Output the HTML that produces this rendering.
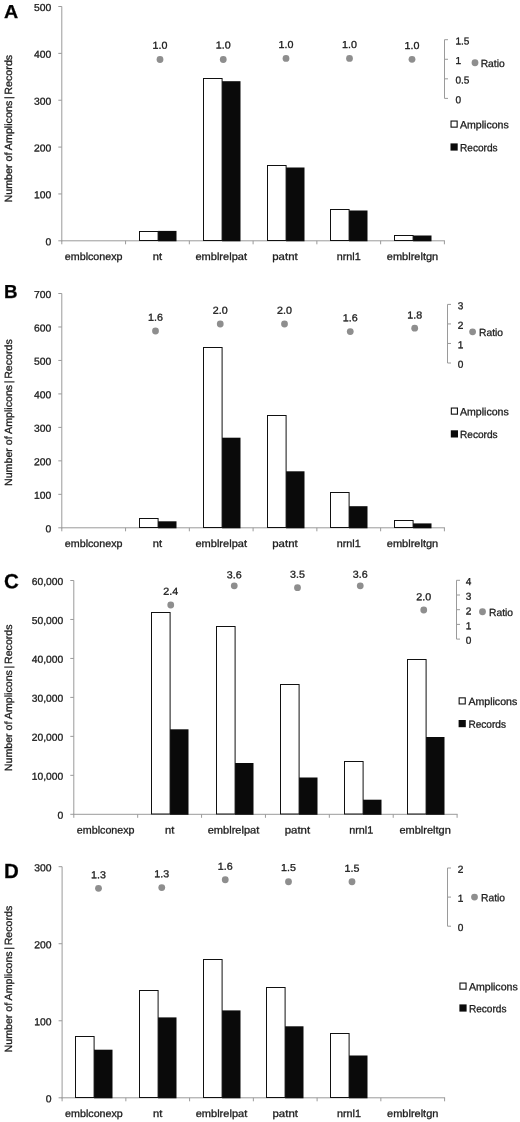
<!DOCTYPE html>
<html><head><meta charset="utf-8"><title>Figure</title>
<style>
html,body{margin:0;padding:0;background:#fff;}
text{stroke:#1c1c1c;stroke-width:0.3px;text-rendering:geometricPrecision;}
svg{display:block;font-family:"Liberation Sans",sans-serif;will-change:transform;}
</style></head><body>
<svg width="520" height="1122" viewBox="0 0 520 1122">
<rect width="520" height="1122" fill="#fff"/>
<text x="4.1" y="18.1" transform="rotate(0.05 4.1 18.1)" font-size="18.8" font-weight="bold" text-anchor="start" fill="#000" textLength="14.2" lengthAdjust="spacingAndGlyphs">A</text>
<text transform="translate(11.5,202.5) rotate(-90)" font-size="10.4" fill="#1c1c1c" textLength="147.7" lengthAdjust="spacingAndGlyphs">Number of Amplicons<tspan dx="1.6">|</tspan><tspan dx="1.6">Records</tspan></text>
<line x1="61.8" y1="6.5" x2="61.8" y2="241.3" stroke="#9a9a9a" stroke-width="1"/>
<line x1="61.3" y1="240.8" x2="444.9" y2="240.8" stroke="#9a9a9a" stroke-width="1"/>
<line x1="58.3" y1="240.8" x2="61.8" y2="240.8" stroke="#9a9a9a" stroke-width="1"/>
<text x="51.3" y="245.25" transform="rotate(0.05 51.3 245.25)" font-size="10.1" font-weight="normal" text-anchor="end" fill="#1c1c1c" textLength="5.8" lengthAdjust="spacingAndGlyphs">0</text>
<line x1="58.3" y1="193.94" x2="61.8" y2="193.94" stroke="#9a9a9a" stroke-width="1"/>
<text x="51.3" y="198.39" transform="rotate(0.05 51.3 198.39)" font-size="10.1" font-weight="normal" text-anchor="end" fill="#1c1c1c" textLength="17.3" lengthAdjust="spacingAndGlyphs">100</text>
<line x1="58.3" y1="147.08" x2="61.8" y2="147.08" stroke="#9a9a9a" stroke-width="1"/>
<text x="51.3" y="151.53" transform="rotate(0.05 51.3 151.53)" font-size="10.1" font-weight="normal" text-anchor="end" fill="#1c1c1c" textLength="17.3" lengthAdjust="spacingAndGlyphs">200</text>
<line x1="58.3" y1="100.22" x2="61.8" y2="100.22" stroke="#9a9a9a" stroke-width="1"/>
<text x="51.3" y="104.67" transform="rotate(0.05 51.3 104.67)" font-size="10.1" font-weight="normal" text-anchor="end" fill="#1c1c1c" textLength="17.3" lengthAdjust="spacingAndGlyphs">300</text>
<line x1="58.3" y1="53.360000000000014" x2="61.8" y2="53.360000000000014" stroke="#9a9a9a" stroke-width="1"/>
<text x="51.3" y="57.81" transform="rotate(0.05 51.3 57.81)" font-size="10.1" font-weight="normal" text-anchor="end" fill="#1c1c1c" textLength="17.3" lengthAdjust="spacingAndGlyphs">400</text>
<line x1="58.3" y1="6.5" x2="61.8" y2="6.5" stroke="#9a9a9a" stroke-width="1"/>
<text x="51.3" y="10.95" transform="rotate(0.05 51.3 10.95)" font-size="10.1" font-weight="normal" text-anchor="end" fill="#1c1c1c" textLength="17.3" lengthAdjust="spacingAndGlyphs">500</text>
<line x1="61.8" y1="240.8" x2="61.8" y2="244.3" stroke="#9a9a9a" stroke-width="1"/>
<line x1="125.56666666666666" y1="240.8" x2="125.56666666666666" y2="244.3" stroke="#9a9a9a" stroke-width="1"/>
<line x1="189.33333333333331" y1="240.8" x2="189.33333333333331" y2="244.3" stroke="#9a9a9a" stroke-width="1"/>
<line x1="253.09999999999997" y1="240.8" x2="253.09999999999997" y2="244.3" stroke="#9a9a9a" stroke-width="1"/>
<line x1="316.8666666666666" y1="240.8" x2="316.8666666666666" y2="244.3" stroke="#9a9a9a" stroke-width="1"/>
<line x1="380.6333333333333" y1="240.8" x2="380.6333333333333" y2="244.3" stroke="#9a9a9a" stroke-width="1"/>
<line x1="444.4" y1="240.8" x2="444.4" y2="244.3" stroke="#9a9a9a" stroke-width="1"/>
<text x="93.68" y="259.95" transform="rotate(0.05 93.68 259.95)" font-size="10.4" font-weight="normal" text-anchor="middle" fill="#1c1c1c" textLength="57.7" lengthAdjust="spacingAndGlyphs">emblconexp</text>
<text x="157.45" y="259.95" transform="rotate(0.05 157.45 259.95)" font-size="10.4" font-weight="normal" text-anchor="middle" fill="#1c1c1c" textLength="9.3" lengthAdjust="spacingAndGlyphs">nt</text>
<text x="221.22" y="259.95" transform="rotate(0.05 221.22 259.95)" font-size="10.4" font-weight="normal" text-anchor="middle" fill="#1c1c1c" textLength="51.6" lengthAdjust="spacingAndGlyphs">emblrelpat</text>
<text x="284.98" y="259.95" transform="rotate(0.05 284.98 259.95)" font-size="10.4" font-weight="normal" text-anchor="middle" fill="#1c1c1c" textLength="25.4" lengthAdjust="spacingAndGlyphs">patnt</text>
<text x="348.75" y="259.95" transform="rotate(0.05 348.75 259.95)" font-size="10.4" font-weight="normal" text-anchor="middle" fill="#1c1c1c" textLength="24" lengthAdjust="spacingAndGlyphs">nrnl1</text>
<text x="412.52" y="259.95" transform="rotate(0.05 412.52 259.95)" font-size="10.4" font-weight="normal" text-anchor="middle" fill="#1c1c1c" textLength="51.4" lengthAdjust="spacingAndGlyphs">emblreltgn</text>
<rect x="139.5" y="231.5" width="18.6" height="9.00" fill="#fff" stroke="#111" stroke-width="1"/>
<rect x="158.1" y="230.90" width="18.4" height="10.40" fill="#0a0a0a"/>
<rect x="203.5" y="78.5" width="18.6" height="162.00" fill="#fff" stroke="#111" stroke-width="1"/>
<rect x="222.1" y="81.20" width="18.4" height="160.10" fill="#0a0a0a"/>
<rect x="267.5" y="165.5" width="18.6" height="75.00" fill="#fff" stroke="#111" stroke-width="1"/>
<rect x="286.1" y="167.50" width="18.4" height="73.80" fill="#0a0a0a"/>
<rect x="330.5" y="209.5" width="18.6" height="31.00" fill="#fff" stroke="#111" stroke-width="1"/>
<rect x="349.1" y="210.50" width="18.4" height="30.80" fill="#0a0a0a"/>
<rect x="394.5" y="235.5" width="18.6" height="5.00" fill="#fff" stroke="#111" stroke-width="1"/>
<rect x="413.1" y="235.50" width="18.4" height="5.80" fill="#0a0a0a"/>
<line x1="444.5" y1="39.7" x2="444.5" y2="98.4" stroke="#9a9a9a" stroke-width="1"/>
<line x1="444.5" y1="98.4" x2="448.0" y2="98.4" stroke="#9a9a9a" stroke-width="1"/>
<text x="455.4" y="103.15" transform="rotate(0.05 455.4 103.15)" font-size="10.1" font-weight="normal" text-anchor="start" fill="#1c1c1c">0</text>
<line x1="444.5" y1="78.83333333333334" x2="448.0" y2="78.83333333333334" stroke="#9a9a9a" stroke-width="1"/>
<text x="455.4" y="83.58" transform="rotate(0.05 455.4 83.58)" font-size="10.1" font-weight="normal" text-anchor="start" fill="#1c1c1c">0.5</text>
<line x1="444.5" y1="59.26666666666667" x2="448.0" y2="59.26666666666667" stroke="#9a9a9a" stroke-width="1"/>
<text x="455.4" y="64.02" transform="rotate(0.05 455.4 64.02)" font-size="10.1" font-weight="normal" text-anchor="start" fill="#1c1c1c">1</text>
<line x1="444.5" y1="39.699999999999996" x2="448.0" y2="39.699999999999996" stroke="#9a9a9a" stroke-width="1"/>
<text x="455.4" y="44.45" transform="rotate(0.05 455.4 44.45)" font-size="10.1" font-weight="normal" text-anchor="start" fill="#1c1c1c">1.5</text>
<circle cx="160" cy="59.5" r="3.4" fill="#8e8e8e"/>
<text x="160" y="48.75" transform="rotate(0.05 160 48.75)" font-size="10.1" font-weight="normal" text-anchor="middle" fill="#1c1c1c" textLength="14.9" lengthAdjust="spacingAndGlyphs">1.0</text>
<circle cx="223.25" cy="59.5" r="3.4" fill="#8e8e8e"/>
<text x="223.25" y="48.45" transform="rotate(0.05 223.25 48.45)" font-size="10.1" font-weight="normal" text-anchor="middle" fill="#1c1c1c" textLength="14.9" lengthAdjust="spacingAndGlyphs">1.0</text>
<circle cx="286" cy="58.4" r="3.4" fill="#8e8e8e"/>
<text x="286" y="47.95" transform="rotate(0.05 286 47.95)" font-size="10.1" font-weight="normal" text-anchor="middle" fill="#1c1c1c" textLength="14.9" lengthAdjust="spacingAndGlyphs">1.0</text>
<circle cx="349.5" cy="58.4" r="3.4" fill="#8e8e8e"/>
<text x="349.5" y="47.95" transform="rotate(0.05 349.5 47.95)" font-size="10.1" font-weight="normal" text-anchor="middle" fill="#1c1c1c" textLength="14.9" lengthAdjust="spacingAndGlyphs">1.0</text>
<circle cx="412" cy="59.3" r="3.4" fill="#8e8e8e"/>
<text x="412" y="49.05" transform="rotate(0.05 412 49.05)" font-size="10.1" font-weight="normal" text-anchor="middle" fill="#1c1c1c" textLength="14.9" lengthAdjust="spacingAndGlyphs">1.0</text>
<circle cx="475" cy="62.75" r="3.4" fill="#8e8e8e"/>
<text x="480.7" y="66.9" transform="rotate(0.05 480.7 66.9)" font-size="10.4" font-weight="normal" text-anchor="start" fill="#1c1c1c" textLength="24" lengthAdjust="spacingAndGlyphs">Ratio</text>
<rect x="451.05" y="121.05" width="6.1" height="6.1" fill="#fff" stroke="#111" stroke-width="1.1"/>
<text x="460" y="128.15" transform="rotate(0.05 460 128.15)" font-size="10.4" font-weight="normal" text-anchor="start" fill="#1c1c1c" textLength="48.8" lengthAdjust="spacingAndGlyphs">Amplicons</text>
<rect x="450.5" y="143.4" width="7.2" height="7.2" fill="#0a0a0a"/>
<text x="460" y="151.15" transform="rotate(0.05 460 151.15)" font-size="10.4" font-weight="normal" text-anchor="start" fill="#1c1c1c" textLength="37.6" lengthAdjust="spacingAndGlyphs">Records</text>
<text x="4.1" y="298.1" transform="rotate(0.05 4.1 298.1)" font-size="18.8" font-weight="bold" text-anchor="start" fill="#000">B</text>
<text transform="translate(11.5,486.0) rotate(-90)" font-size="10.4" fill="#1c1c1c" textLength="146.8" lengthAdjust="spacingAndGlyphs">Number of Amplicons<tspan dx="1.6">|</tspan><tspan dx="1.6">Records</tspan></text>
<line x1="61.8" y1="293.5" x2="61.8" y2="528.3" stroke="#9a9a9a" stroke-width="1"/>
<line x1="61.3" y1="527.8" x2="444.9" y2="527.8" stroke="#9a9a9a" stroke-width="1"/>
<line x1="58.3" y1="527.8" x2="61.8" y2="527.8" stroke="#9a9a9a" stroke-width="1"/>
<text x="51.3" y="532.25" transform="rotate(0.05 51.3 532.25)" font-size="10.1" font-weight="normal" text-anchor="end" fill="#1c1c1c" textLength="5.8" lengthAdjust="spacingAndGlyphs">0</text>
<line x1="58.3" y1="494.32857142857137" x2="61.8" y2="494.32857142857137" stroke="#9a9a9a" stroke-width="1"/>
<text x="51.3" y="498.78" transform="rotate(0.05 51.3 498.78)" font-size="10.1" font-weight="normal" text-anchor="end" fill="#1c1c1c" textLength="17.3" lengthAdjust="spacingAndGlyphs">100</text>
<line x1="58.3" y1="460.85714285714283" x2="61.8" y2="460.85714285714283" stroke="#9a9a9a" stroke-width="1"/>
<text x="51.3" y="465.31" transform="rotate(0.05 51.3 465.31)" font-size="10.1" font-weight="normal" text-anchor="end" fill="#1c1c1c" textLength="17.3" lengthAdjust="spacingAndGlyphs">200</text>
<line x1="58.3" y1="427.38571428571424" x2="61.8" y2="427.38571428571424" stroke="#9a9a9a" stroke-width="1"/>
<text x="51.3" y="431.84" transform="rotate(0.05 51.3 431.84)" font-size="10.1" font-weight="normal" text-anchor="end" fill="#1c1c1c" textLength="17.3" lengthAdjust="spacingAndGlyphs">300</text>
<line x1="58.3" y1="393.9142857142857" x2="61.8" y2="393.9142857142857" stroke="#9a9a9a" stroke-width="1"/>
<text x="51.3" y="398.36" transform="rotate(0.05 51.3 398.36)" font-size="10.1" font-weight="normal" text-anchor="end" fill="#1c1c1c" textLength="17.3" lengthAdjust="spacingAndGlyphs">400</text>
<line x1="58.3" y1="360.4428571428572" x2="61.8" y2="360.4428571428572" stroke="#9a9a9a" stroke-width="1"/>
<text x="51.3" y="364.89" transform="rotate(0.05 51.3 364.89)" font-size="10.1" font-weight="normal" text-anchor="end" fill="#1c1c1c" textLength="17.3" lengthAdjust="spacingAndGlyphs">500</text>
<line x1="58.3" y1="326.97142857142853" x2="61.8" y2="326.97142857142853" stroke="#9a9a9a" stroke-width="1"/>
<text x="51.3" y="331.42" transform="rotate(0.05 51.3 331.42)" font-size="10.1" font-weight="normal" text-anchor="end" fill="#1c1c1c" textLength="17.3" lengthAdjust="spacingAndGlyphs">600</text>
<line x1="58.3" y1="293.5" x2="61.8" y2="293.5" stroke="#9a9a9a" stroke-width="1"/>
<text x="51.3" y="297.95" transform="rotate(0.05 51.3 297.95)" font-size="10.1" font-weight="normal" text-anchor="end" fill="#1c1c1c" textLength="17.3" lengthAdjust="spacingAndGlyphs">700</text>
<line x1="61.8" y1="527.8" x2="61.8" y2="531.3" stroke="#9a9a9a" stroke-width="1"/>
<line x1="125.56666666666666" y1="527.8" x2="125.56666666666666" y2="531.3" stroke="#9a9a9a" stroke-width="1"/>
<line x1="189.33333333333331" y1="527.8" x2="189.33333333333331" y2="531.3" stroke="#9a9a9a" stroke-width="1"/>
<line x1="253.09999999999997" y1="527.8" x2="253.09999999999997" y2="531.3" stroke="#9a9a9a" stroke-width="1"/>
<line x1="316.8666666666666" y1="527.8" x2="316.8666666666666" y2="531.3" stroke="#9a9a9a" stroke-width="1"/>
<line x1="380.6333333333333" y1="527.8" x2="380.6333333333333" y2="531.3" stroke="#9a9a9a" stroke-width="1"/>
<line x1="444.4" y1="527.8" x2="444.4" y2="531.3" stroke="#9a9a9a" stroke-width="1"/>
<text x="93.68" y="546.95" transform="rotate(0.05 93.68 546.95)" font-size="10.4" font-weight="normal" text-anchor="middle" fill="#1c1c1c" textLength="57.7" lengthAdjust="spacingAndGlyphs">emblconexp</text>
<text x="157.45" y="546.95" transform="rotate(0.05 157.45 546.95)" font-size="10.4" font-weight="normal" text-anchor="middle" fill="#1c1c1c" textLength="9.3" lengthAdjust="spacingAndGlyphs">nt</text>
<text x="221.22" y="546.95" transform="rotate(0.05 221.22 546.95)" font-size="10.4" font-weight="normal" text-anchor="middle" fill="#1c1c1c" textLength="51.6" lengthAdjust="spacingAndGlyphs">emblrelpat</text>
<text x="284.98" y="546.95" transform="rotate(0.05 284.98 546.95)" font-size="10.4" font-weight="normal" text-anchor="middle" fill="#1c1c1c" textLength="25.4" lengthAdjust="spacingAndGlyphs">patnt</text>
<text x="348.75" y="546.95" transform="rotate(0.05 348.75 546.95)" font-size="10.4" font-weight="normal" text-anchor="middle" fill="#1c1c1c" textLength="24" lengthAdjust="spacingAndGlyphs">nrnl1</text>
<text x="412.52" y="546.95" transform="rotate(0.05 412.52 546.95)" font-size="10.4" font-weight="normal" text-anchor="middle" fill="#1c1c1c" textLength="51.4" lengthAdjust="spacingAndGlyphs">emblreltgn</text>
<rect x="139.5" y="518.5" width="18.6" height="9.00" fill="#fff" stroke="#111" stroke-width="1"/>
<rect x="158.1" y="521.30" width="18.4" height="7.00" fill="#0a0a0a"/>
<rect x="203.5" y="347.5" width="18.6" height="180.00" fill="#fff" stroke="#111" stroke-width="1"/>
<rect x="222.1" y="437.70" width="18.4" height="90.60" fill="#0a0a0a"/>
<rect x="267.5" y="415.5" width="18.6" height="112.00" fill="#fff" stroke="#111" stroke-width="1"/>
<rect x="286.1" y="471.30" width="18.4" height="57.00" fill="#0a0a0a"/>
<rect x="330.5" y="492.5" width="18.6" height="35.00" fill="#fff" stroke="#111" stroke-width="1"/>
<rect x="349.1" y="506.20" width="18.4" height="22.10" fill="#0a0a0a"/>
<rect x="394.5" y="520.5" width="18.6" height="7.00" fill="#fff" stroke="#111" stroke-width="1"/>
<rect x="413.1" y="523.40" width="18.4" height="4.90" fill="#0a0a0a"/>
<line x1="447.5" y1="304.4" x2="447.5" y2="363" stroke="#9a9a9a" stroke-width="1"/>
<line x1="447.5" y1="363.0" x2="451.0" y2="363.0" stroke="#9a9a9a" stroke-width="1"/>
<text x="457.8" y="367.75" transform="rotate(0.05 457.8 367.75)" font-size="10.1" font-weight="normal" text-anchor="start" fill="#1c1c1c">0</text>
<line x1="447.5" y1="343.46666666666664" x2="451.0" y2="343.46666666666664" stroke="#9a9a9a" stroke-width="1"/>
<text x="457.8" y="348.22" transform="rotate(0.05 457.8 348.22)" font-size="10.1" font-weight="normal" text-anchor="start" fill="#1c1c1c">1</text>
<line x1="447.5" y1="323.93333333333334" x2="451.0" y2="323.93333333333334" stroke="#9a9a9a" stroke-width="1"/>
<text x="457.8" y="328.68" transform="rotate(0.05 457.8 328.68)" font-size="10.1" font-weight="normal" text-anchor="start" fill="#1c1c1c">2</text>
<line x1="447.5" y1="304.4" x2="451.0" y2="304.4" stroke="#9a9a9a" stroke-width="1"/>
<text x="457.8" y="309.15" transform="rotate(0.05 457.8 309.15)" font-size="10.1" font-weight="normal" text-anchor="start" fill="#1c1c1c">3</text>
<circle cx="155.5" cy="331" r="3.4" fill="#8e8e8e"/>
<text x="155.5" y="320.65" transform="rotate(0.05 155.5 320.65)" font-size="10.1" font-weight="normal" text-anchor="middle" fill="#1c1c1c" textLength="14.9" lengthAdjust="spacingAndGlyphs">1.6</text>
<circle cx="220.25" cy="324" r="3.4" fill="#8e8e8e"/>
<text x="220.25" y="313.75" transform="rotate(0.05 220.25 313.75)" font-size="10.1" font-weight="normal" text-anchor="middle" fill="#1c1c1c" textLength="14.9" lengthAdjust="spacingAndGlyphs">2.0</text>
<circle cx="284.5" cy="324" r="3.4" fill="#8e8e8e"/>
<text x="284.5" y="313.85" transform="rotate(0.05 284.5 313.85)" font-size="10.1" font-weight="normal" text-anchor="middle" fill="#1c1c1c" textLength="14.9" lengthAdjust="spacingAndGlyphs">2.0</text>
<circle cx="350.25" cy="331.6" r="3.4" fill="#8e8e8e"/>
<text x="350.25" y="321.35" transform="rotate(0.05 350.25 321.35)" font-size="10.1" font-weight="normal" text-anchor="middle" fill="#1c1c1c" textLength="14.9" lengthAdjust="spacingAndGlyphs">1.6</text>
<circle cx="414.7" cy="328.2" r="3.4" fill="#8e8e8e"/>
<text x="414.7" y="318.55" transform="rotate(0.05 414.7 318.55)" font-size="10.1" font-weight="normal" text-anchor="middle" fill="#1c1c1c" textLength="14.9" lengthAdjust="spacingAndGlyphs">1.8</text>
<circle cx="472.6" cy="331.8" r="3.4" fill="#8e8e8e"/>
<text x="479" y="335.95" transform="rotate(0.05 479 335.95)" font-size="10.4" font-weight="normal" text-anchor="start" fill="#1c1c1c" textLength="24" lengthAdjust="spacingAndGlyphs">Ratio</text>
<rect x="451.35" y="408.05" width="6.1" height="6.1" fill="#fff" stroke="#111" stroke-width="1.1"/>
<text x="460" y="415.15" transform="rotate(0.05 460 415.15)" font-size="10.4" font-weight="normal" text-anchor="start" fill="#1c1c1c" textLength="48.8" lengthAdjust="spacingAndGlyphs">Amplicons</text>
<rect x="450.8" y="430.29999999999995" width="7.2" height="7.2" fill="#0a0a0a"/>
<text x="460" y="438.05" transform="rotate(0.05 460 438.05)" font-size="10.4" font-weight="normal" text-anchor="start" fill="#1c1c1c" textLength="37.6" lengthAdjust="spacingAndGlyphs">Records</text>
<text x="4.1" y="588.2" transform="rotate(0.05 4.1 588.2)" font-size="20.5" font-weight="bold" text-anchor="start" fill="#000">C</text>
<text transform="translate(11.5,771.2) rotate(-90)" font-size="10.4" fill="#1c1c1c" textLength="146.8" lengthAdjust="spacingAndGlyphs">Number of Amplicons<tspan dx="1.6">|</tspan><tspan dx="1.6">Records</tspan></text>
<line x1="73.8" y1="580.5" x2="73.8" y2="814.8" stroke="#9a9a9a" stroke-width="1"/>
<line x1="73.3" y1="814.3" x2="457.6" y2="814.3" stroke="#9a9a9a" stroke-width="1"/>
<line x1="70.3" y1="814.3" x2="73.8" y2="814.3" stroke="#9a9a9a" stroke-width="1"/>
<text x="63.3" y="818.75" transform="rotate(0.05 63.3 818.75)" font-size="10.1" font-weight="normal" text-anchor="end" fill="#1c1c1c" textLength="5.8" lengthAdjust="spacingAndGlyphs">0</text>
<line x1="70.3" y1="775.3333333333333" x2="73.8" y2="775.3333333333333" stroke="#9a9a9a" stroke-width="1"/>
<text x="63.3" y="779.78" transform="rotate(0.05 63.3 779.78)" font-size="10.1" font-weight="normal" text-anchor="end" fill="#1c1c1c" textLength="31.5" lengthAdjust="spacingAndGlyphs">10,000</text>
<line x1="70.3" y1="736.3666666666667" x2="73.8" y2="736.3666666666667" stroke="#9a9a9a" stroke-width="1"/>
<text x="63.3" y="740.82" transform="rotate(0.05 63.3 740.82)" font-size="10.1" font-weight="normal" text-anchor="end" fill="#1c1c1c" textLength="31.5" lengthAdjust="spacingAndGlyphs">20,000</text>
<line x1="70.3" y1="697.4" x2="73.8" y2="697.4" stroke="#9a9a9a" stroke-width="1"/>
<text x="63.3" y="701.85" transform="rotate(0.05 63.3 701.85)" font-size="10.1" font-weight="normal" text-anchor="end" fill="#1c1c1c" textLength="31.5" lengthAdjust="spacingAndGlyphs">30,000</text>
<line x1="70.3" y1="658.4333333333333" x2="73.8" y2="658.4333333333333" stroke="#9a9a9a" stroke-width="1"/>
<text x="63.3" y="662.88" transform="rotate(0.05 63.3 662.88)" font-size="10.1" font-weight="normal" text-anchor="end" fill="#1c1c1c" textLength="31.5" lengthAdjust="spacingAndGlyphs">40,000</text>
<line x1="70.3" y1="619.4666666666667" x2="73.8" y2="619.4666666666667" stroke="#9a9a9a" stroke-width="1"/>
<text x="63.3" y="623.92" transform="rotate(0.05 63.3 623.92)" font-size="10.1" font-weight="normal" text-anchor="end" fill="#1c1c1c" textLength="31.5" lengthAdjust="spacingAndGlyphs">50,000</text>
<line x1="70.3" y1="580.5" x2="73.8" y2="580.5" stroke="#9a9a9a" stroke-width="1"/>
<text x="63.3" y="584.95" transform="rotate(0.05 63.3 584.95)" font-size="10.1" font-weight="normal" text-anchor="end" fill="#1c1c1c" textLength="31.5" lengthAdjust="spacingAndGlyphs">60,000</text>
<line x1="73.8" y1="814.3" x2="73.8" y2="817.8" stroke="#9a9a9a" stroke-width="1"/>
<line x1="137.68333333333334" y1="814.3" x2="137.68333333333334" y2="817.8" stroke="#9a9a9a" stroke-width="1"/>
<line x1="201.56666666666666" y1="814.3" x2="201.56666666666666" y2="817.8" stroke="#9a9a9a" stroke-width="1"/>
<line x1="265.45" y1="814.3" x2="265.45" y2="817.8" stroke="#9a9a9a" stroke-width="1"/>
<line x1="329.3333333333333" y1="814.3" x2="329.3333333333333" y2="817.8" stroke="#9a9a9a" stroke-width="1"/>
<line x1="393.2166666666667" y1="814.3" x2="393.2166666666667" y2="817.8" stroke="#9a9a9a" stroke-width="1"/>
<line x1="457.1" y1="814.3" x2="457.1" y2="817.8" stroke="#9a9a9a" stroke-width="1"/>
<text x="105.74" y="833.45" transform="rotate(0.05 105.74 833.45)" font-size="10.4" font-weight="normal" text-anchor="middle" fill="#1c1c1c" textLength="57.7" lengthAdjust="spacingAndGlyphs">emblconexp</text>
<text x="169.62" y="833.45" transform="rotate(0.05 169.62 833.45)" font-size="10.4" font-weight="normal" text-anchor="middle" fill="#1c1c1c" textLength="9.3" lengthAdjust="spacingAndGlyphs">nt</text>
<text x="233.51" y="833.45" transform="rotate(0.05 233.51 833.45)" font-size="10.4" font-weight="normal" text-anchor="middle" fill="#1c1c1c" textLength="51.6" lengthAdjust="spacingAndGlyphs">emblrelpat</text>
<text x="297.39" y="833.45" transform="rotate(0.05 297.39 833.45)" font-size="10.4" font-weight="normal" text-anchor="middle" fill="#1c1c1c" textLength="25.4" lengthAdjust="spacingAndGlyphs">patnt</text>
<text x="361.28" y="833.45" transform="rotate(0.05 361.28 833.45)" font-size="10.4" font-weight="normal" text-anchor="middle" fill="#1c1c1c" textLength="24" lengthAdjust="spacingAndGlyphs">nrnl1</text>
<text x="425.16" y="833.45" transform="rotate(0.05 425.16 833.45)" font-size="10.4" font-weight="normal" text-anchor="middle" fill="#1c1c1c" textLength="51.4" lengthAdjust="spacingAndGlyphs">emblreltgn</text>
<rect x="151.5" y="612.5" width="18.6" height="201.50" fill="#fff" stroke="#111" stroke-width="1"/>
<rect x="170.1" y="729.30" width="18.4" height="85.50" fill="#0a0a0a"/>
<rect x="216.5" y="626.5" width="18.6" height="187.50" fill="#fff" stroke="#111" stroke-width="1"/>
<rect x="235.1" y="763.00" width="18.4" height="51.80" fill="#0a0a0a"/>
<rect x="280.5" y="684.5" width="18.6" height="129.50" fill="#fff" stroke="#111" stroke-width="1"/>
<rect x="299.1" y="777.50" width="18.4" height="37.30" fill="#0a0a0a"/>
<rect x="344.5" y="761.5" width="18.6" height="52.50" fill="#fff" stroke="#111" stroke-width="1"/>
<rect x="363.1" y="799.70" width="18.4" height="15.10" fill="#0a0a0a"/>
<rect x="407.5" y="659.5" width="18.6" height="154.50" fill="#fff" stroke="#111" stroke-width="1"/>
<rect x="426.1" y="737.00" width="18.4" height="77.80" fill="#0a0a0a"/>
<line x1="456.5" y1="580.3" x2="456.5" y2="639.1" stroke="#9a9a9a" stroke-width="1"/>
<line x1="456.5" y1="639.1" x2="460.0" y2="639.1" stroke="#9a9a9a" stroke-width="1"/>
<text x="465.8" y="643.85" transform="rotate(0.05 465.8 643.85)" font-size="10.1" font-weight="normal" text-anchor="start" fill="#1c1c1c">0</text>
<line x1="456.5" y1="624.4" x2="460.0" y2="624.4" stroke="#9a9a9a" stroke-width="1"/>
<text x="465.8" y="629.15" transform="rotate(0.05 465.8 629.15)" font-size="10.1" font-weight="normal" text-anchor="start" fill="#1c1c1c">1</text>
<line x1="456.5" y1="609.7" x2="460.0" y2="609.7" stroke="#9a9a9a" stroke-width="1"/>
<text x="465.8" y="614.45" transform="rotate(0.05 465.8 614.45)" font-size="10.1" font-weight="normal" text-anchor="start" fill="#1c1c1c">2</text>
<line x1="456.5" y1="595.0" x2="460.0" y2="595.0" stroke="#9a9a9a" stroke-width="1"/>
<text x="465.8" y="599.75" transform="rotate(0.05 465.8 599.75)" font-size="10.1" font-weight="normal" text-anchor="start" fill="#1c1c1c">3</text>
<line x1="456.5" y1="580.3" x2="460.0" y2="580.3" stroke="#9a9a9a" stroke-width="1"/>
<text x="465.8" y="585.05" transform="rotate(0.05 465.8 585.05)" font-size="10.1" font-weight="normal" text-anchor="start" fill="#1c1c1c">4</text>
<circle cx="170.75" cy="605" r="3.4" fill="#8e8e8e"/>
<text x="170.75" y="594.65" transform="rotate(0.05 170.75 594.65)" font-size="10.1" font-weight="normal" text-anchor="middle" fill="#1c1c1c" textLength="14.9" lengthAdjust="spacingAndGlyphs">2.4</text>
<circle cx="234.25" cy="585.8" r="3.4" fill="#8e8e8e"/>
<text x="234.25" y="578.35" transform="rotate(0.05 234.25 578.35)" font-size="10.1" font-weight="normal" text-anchor="middle" fill="#1c1c1c" textLength="14.9" lengthAdjust="spacingAndGlyphs">3.6</text>
<circle cx="297.5" cy="587.7" r="3.4" fill="#8e8e8e"/>
<text x="297.5" y="577.65" transform="rotate(0.05 297.5 577.65)" font-size="10.1" font-weight="normal" text-anchor="middle" fill="#1c1c1c" textLength="14.9" lengthAdjust="spacingAndGlyphs">3.5</text>
<circle cx="360.25" cy="585.8" r="3.4" fill="#8e8e8e"/>
<text x="360.25" y="577.65" transform="rotate(0.05 360.25 577.65)" font-size="10.1" font-weight="normal" text-anchor="middle" fill="#1c1c1c" textLength="14.9" lengthAdjust="spacingAndGlyphs">3.6</text>
<circle cx="423.75" cy="610" r="3.4" fill="#8e8e8e"/>
<text x="423.75" y="600.15" transform="rotate(0.05 423.75 600.15)" font-size="10.1" font-weight="normal" text-anchor="middle" fill="#1c1c1c" textLength="14.9" lengthAdjust="spacingAndGlyphs">2.0</text>
<circle cx="482.5" cy="611.75" r="3.4" fill="#8e8e8e"/>
<text x="489" y="615.9" transform="rotate(0.05 489 615.9)" font-size="10.4" font-weight="normal" text-anchor="start" fill="#1c1c1c" textLength="24" lengthAdjust="spacingAndGlyphs">Ratio</text>
<rect x="459.15000000000003" y="697.8499999999999" width="6.1" height="6.1" fill="#fff" stroke="#111" stroke-width="1.1"/>
<text x="468.4" y="704.95" transform="rotate(0.05 468.4 704.95)" font-size="10.4" font-weight="normal" text-anchor="start" fill="#1c1c1c" textLength="48.8" lengthAdjust="spacingAndGlyphs">Amplicons</text>
<rect x="458.6" y="720.0" width="7.2" height="7.2" fill="#0a0a0a"/>
<text x="468.4" y="727.75" transform="rotate(0.05 468.4 727.75)" font-size="10.4" font-weight="normal" text-anchor="start" fill="#1c1c1c" textLength="37.6" lengthAdjust="spacingAndGlyphs">Records</text>
<text x="4.1" y="877.9" transform="rotate(0.05 4.1 877.9)" font-size="20.5" font-weight="bold" text-anchor="start" fill="#000">D</text>
<text transform="translate(11.5,1052.4) rotate(-90)" font-size="10.4" fill="#1c1c1c" textLength="146.7" lengthAdjust="spacingAndGlyphs">Number of Amplicons<tspan dx="1.6">|</tspan><tspan dx="1.6">Records</tspan></text>
<line x1="62.1" y1="866.7" x2="62.1" y2="1098.3" stroke="#9a9a9a" stroke-width="1"/>
<line x1="61.6" y1="1097.8" x2="445.1" y2="1097.8" stroke="#9a9a9a" stroke-width="1"/>
<line x1="58.6" y1="1097.8" x2="62.1" y2="1097.8" stroke="#9a9a9a" stroke-width="1"/>
<text x="51.6" y="1102.25" transform="rotate(0.05 51.6 1102.25)" font-size="10.1" font-weight="normal" text-anchor="end" fill="#1c1c1c" textLength="5.8" lengthAdjust="spacingAndGlyphs">0</text>
<line x1="58.6" y1="1020.7666666666667" x2="62.1" y2="1020.7666666666667" stroke="#9a9a9a" stroke-width="1"/>
<text x="51.6" y="1025.22" transform="rotate(0.05 51.6 1025.22)" font-size="10.1" font-weight="normal" text-anchor="end" fill="#1c1c1c" textLength="17.3" lengthAdjust="spacingAndGlyphs">100</text>
<line x1="58.6" y1="943.7333333333333" x2="62.1" y2="943.7333333333333" stroke="#9a9a9a" stroke-width="1"/>
<text x="51.6" y="948.18" transform="rotate(0.05 51.6 948.18)" font-size="10.1" font-weight="normal" text-anchor="end" fill="#1c1c1c" textLength="17.3" lengthAdjust="spacingAndGlyphs">200</text>
<line x1="58.6" y1="866.7" x2="62.1" y2="866.7" stroke="#9a9a9a" stroke-width="1"/>
<text x="51.6" y="871.15" transform="rotate(0.05 51.6 871.15)" font-size="10.1" font-weight="normal" text-anchor="end" fill="#1c1c1c" textLength="17.3" lengthAdjust="spacingAndGlyphs">300</text>
<line x1="62.1" y1="1097.8" x2="62.1" y2="1101.3" stroke="#9a9a9a" stroke-width="1"/>
<line x1="125.85" y1="1097.8" x2="125.85" y2="1101.3" stroke="#9a9a9a" stroke-width="1"/>
<line x1="189.6" y1="1097.8" x2="189.6" y2="1101.3" stroke="#9a9a9a" stroke-width="1"/>
<line x1="253.35" y1="1097.8" x2="253.35" y2="1101.3" stroke="#9a9a9a" stroke-width="1"/>
<line x1="317.1" y1="1097.8" x2="317.1" y2="1101.3" stroke="#9a9a9a" stroke-width="1"/>
<line x1="380.85" y1="1097.8" x2="380.85" y2="1101.3" stroke="#9a9a9a" stroke-width="1"/>
<line x1="444.6" y1="1097.8" x2="444.6" y2="1101.3" stroke="#9a9a9a" stroke-width="1"/>
<text x="93.97" y="1116.95" transform="rotate(0.05 93.97 1116.95)" font-size="10.4" font-weight="normal" text-anchor="middle" fill="#1c1c1c" textLength="57.7" lengthAdjust="spacingAndGlyphs">emblconexp</text>
<text x="157.72" y="1116.95" transform="rotate(0.05 157.72 1116.95)" font-size="10.4" font-weight="normal" text-anchor="middle" fill="#1c1c1c" textLength="9.3" lengthAdjust="spacingAndGlyphs">nt</text>
<text x="221.47" y="1116.95" transform="rotate(0.05 221.47 1116.95)" font-size="10.4" font-weight="normal" text-anchor="middle" fill="#1c1c1c" textLength="51.6" lengthAdjust="spacingAndGlyphs">emblrelpat</text>
<text x="285.23" y="1116.95" transform="rotate(0.05 285.23 1116.95)" font-size="10.4" font-weight="normal" text-anchor="middle" fill="#1c1c1c" textLength="25.4" lengthAdjust="spacingAndGlyphs">patnt</text>
<text x="348.98" y="1116.95" transform="rotate(0.05 348.98 1116.95)" font-size="10.4" font-weight="normal" text-anchor="middle" fill="#1c1c1c" textLength="24" lengthAdjust="spacingAndGlyphs">nrnl1</text>
<text x="412.73" y="1116.95" transform="rotate(0.05 412.73 1116.95)" font-size="10.4" font-weight="normal" text-anchor="middle" fill="#1c1c1c" textLength="51.4" lengthAdjust="spacingAndGlyphs">emblreltgn</text>
<rect x="75.5" y="1036.5" width="18.6" height="61.00" fill="#fff" stroke="#111" stroke-width="1"/>
<rect x="94.1" y="1049.70" width="18.4" height="48.60" fill="#0a0a0a"/>
<rect x="139.5" y="990.5" width="18.6" height="107.00" fill="#fff" stroke="#111" stroke-width="1"/>
<rect x="158.1" y="1017.40" width="18.4" height="80.90" fill="#0a0a0a"/>
<rect x="203.5" y="959.5" width="18.6" height="138.00" fill="#fff" stroke="#111" stroke-width="1"/>
<rect x="222.1" y="1010.40" width="18.4" height="87.90" fill="#0a0a0a"/>
<rect x="266.5" y="987.5" width="18.6" height="110.00" fill="#fff" stroke="#111" stroke-width="1"/>
<rect x="285.1" y="1026.30" width="18.4" height="72.00" fill="#0a0a0a"/>
<rect x="330.5" y="1033.5" width="18.6" height="64.00" fill="#fff" stroke="#111" stroke-width="1"/>
<rect x="349.1" y="1055.50" width="18.4" height="42.80" fill="#0a0a0a"/>
<line x1="447.5" y1="868" x2="447.5" y2="926.2" stroke="#9a9a9a" stroke-width="1"/>
<line x1="447.5" y1="926.2" x2="451.0" y2="926.2" stroke="#9a9a9a" stroke-width="1"/>
<text x="457.8" y="930.95" transform="rotate(0.05 457.8 930.95)" font-size="10.1" font-weight="normal" text-anchor="start" fill="#1c1c1c">0</text>
<line x1="447.5" y1="897.1" x2="451.0" y2="897.1" stroke="#9a9a9a" stroke-width="1"/>
<text x="457.8" y="901.85" transform="rotate(0.05 457.8 901.85)" font-size="10.1" font-weight="normal" text-anchor="start" fill="#1c1c1c">1</text>
<line x1="447.5" y1="868.0" x2="451.0" y2="868.0" stroke="#9a9a9a" stroke-width="1"/>
<text x="457.8" y="872.75" transform="rotate(0.05 457.8 872.75)" font-size="10.1" font-weight="normal" text-anchor="start" fill="#1c1c1c">2</text>
<circle cx="98.5" cy="888.3" r="3.4" fill="#8e8e8e"/>
<text x="98.5" y="878.35" transform="rotate(0.05 98.5 878.35)" font-size="10.1" font-weight="normal" text-anchor="middle" fill="#1c1c1c" textLength="14.9" lengthAdjust="spacingAndGlyphs">1.3</text>
<circle cx="161.75" cy="887.6" r="3.4" fill="#8e8e8e"/>
<text x="161.75" y="877.35" transform="rotate(0.05 161.75 877.35)" font-size="10.1" font-weight="normal" text-anchor="middle" fill="#1c1c1c" textLength="14.9" lengthAdjust="spacingAndGlyphs">1.3</text>
<circle cx="225.25" cy="879.75" r="3.4" fill="#8e8e8e"/>
<text x="225.25" y="869.85" transform="rotate(0.05 225.25 869.85)" font-size="10.1" font-weight="normal" text-anchor="middle" fill="#1c1c1c" textLength="14.9" lengthAdjust="spacingAndGlyphs">1.6</text>
<circle cx="288.5" cy="881.75" r="3.4" fill="#8e8e8e"/>
<text x="288.5" y="871.1" transform="rotate(0.05 288.5 871.1)" font-size="10.1" font-weight="normal" text-anchor="middle" fill="#1c1c1c" textLength="14.9" lengthAdjust="spacingAndGlyphs">1.5</text>
<circle cx="352" cy="881.75" r="3.4" fill="#8e8e8e"/>
<text x="352" y="871.85" transform="rotate(0.05 352 871.85)" font-size="10.1" font-weight="normal" text-anchor="middle" fill="#1c1c1c" textLength="14.9" lengthAdjust="spacingAndGlyphs">1.5</text>
<circle cx="474.5" cy="897.1" r="3.4" fill="#8e8e8e"/>
<text x="481" y="901.25" transform="rotate(0.05 481 901.25)" font-size="10.4" font-weight="normal" text-anchor="start" fill="#1c1c1c" textLength="24" lengthAdjust="spacingAndGlyphs">Ratio</text>
<rect x="459.95" y="983.05" width="6.1" height="6.1" fill="#fff" stroke="#111" stroke-width="1.1"/>
<text x="468.9" y="990.15" transform="rotate(0.05 468.9 990.15)" font-size="10.4" font-weight="normal" text-anchor="start" fill="#1c1c1c" textLength="48.8" lengthAdjust="spacingAndGlyphs">Amplicons</text>
<rect x="459.4" y="1004.4" width="7.2" height="7.2" fill="#0a0a0a"/>
<text x="468.9" y="1012.15" transform="rotate(0.05 468.9 1012.15)" font-size="10.4" font-weight="normal" text-anchor="start" fill="#1c1c1c" textLength="37.6" lengthAdjust="spacingAndGlyphs">Records</text>
</svg>
</body></html>
